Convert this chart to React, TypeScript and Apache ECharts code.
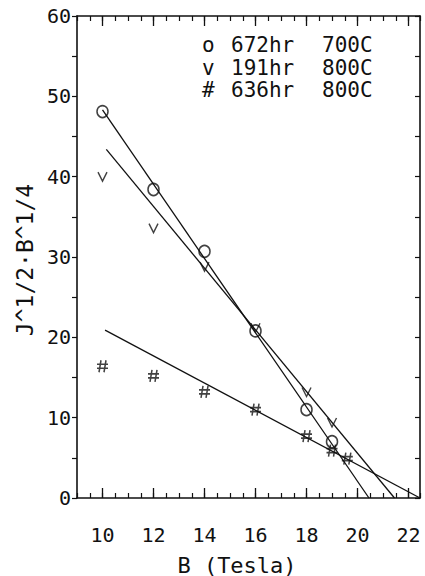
import React, { useEffect, useRef } from 'react';
import * as echarts from 'echarts';

const xLabels = [10, 12, 14, 16, 18, 20, 22];
const circlePts = [[10, 48.1], [12, 38.4], [14, 30.7], [16, 20.8], [18, 11.0], [19, 7.0]];
const vPts = [[10, 40.0], [12, 33.6], [14, 28.8], [16, 21.2], [18, 13.2], [19, 9.4]];
const hashPts = [[10, 16.4], [12, 15.2], [14, 13.2], [16, 11.0], [18, 7.7], [19, 5.9], [19.6, 4.9]];
const circleFit = [[10, 48.3], [20.45, 0]];
const vFit = [[10.15, 43.4], [21.45, 0]];
const hashFit = [[10.1, 20.9], [22.45, 0]];
const legendMarks = ['o', 'v', '#'];
const legendRuns = ['672hr', '191hr', '636hr'];
const legendTemps = ['700C', '800C', '800C'];
const yTitle = 'J^1/2·B^1/4';
const xTitle = 'B (Tesla)';

const FONT = 'DejaVu Sans Mono';
const INK = '#111';

export default function App() {
  const ref = useRef<HTMLDivElement>(null);
  useEffect(() => {
    if (!ref.current) return;
    const chart = echarts.init(ref.current, undefined, { renderer: 'svg' });
    const xMin = 9, xMax = 22.45;
    const baseX = { type: 'value', min: xMin, max: xMax, splitLine: { show: false } };
    const legendGraphics: any[] = [];
    legendMarks.forEach((m, i) => {
      const y = 45 + i * 22.5;
      const st = { fontFamily: FONT, fontSize: 21, lineHeight: 20, fill: INK, verticalAlign: 'middle' };
      legendGraphics.push({ type: 'text', x: 202, y, style: { ...st, text: m } });
      legendGraphics.push({ type: 'text', x: 231, y, style: { ...st, text: legendRuns[i] } });
      legendGraphics.push({ type: 'text', x: 322, y, style: { ...st, text: legendTemps[i] } });
    });
    const option: any = {
      animation: false,
      grid: { left: 77, right: 5, top: 16, bottom: 78, containLabel: false },
      xAxis: [
        {
          ...baseX, position: 'bottom', interval: 0.5,
          axisLine: { show: true, lineStyle: { color: INK, width: 1.6 } },
          axisTick: { show: true, inside: true, length: 5, lineStyle: { color: INK, width: 1.2 } },
          axisLabel: {
            customValues: xLabels, interval: 0, margin: 27, fontFamily: FONT, fontSize: 20, color: INK,
            formatter: (v: number) => (xLabels.includes(v) ? String(v) : ''),
          },
        },
        {
          ...baseX, position: 'bottom',
          axisLine: { show: false },
          axisTick: { show: true, inside: true, length: 10, customValues: xLabels, lineStyle: { color: INK, width: 1.3 } },
          axisLabel: { show: false },
        },
        {
          ...baseX, position: 'top', interval: 0.5,
          axisLine: { show: true, lineStyle: { color: INK, width: 1.6 } },
          axisTick: { show: true, inside: true, length: 5, lineStyle: { color: INK, width: 1.2 } },
          axisLabel: { show: false },
        },
        {
          ...baseX, position: 'top',
          axisLine: { show: false },
          axisTick: { show: true, inside: true, length: 10, customValues: xLabels, lineStyle: { color: INK, width: 1.3 } },
          axisLabel: { show: false },
        },
      ],
      yAxis: [
        {
          type: 'value', position: 'left', min: 0, max: 60, interval: 10,
          splitLine: { show: false },
          axisLine: { show: true, lineStyle: { color: INK, width: 1.6 } },
          axisTick: { show: true, inside: false, length: 5, lineStyle: { color: INK, width: 1.2 } },
          minorTick: { show: true, splitNumber: 2, length: 5, lineStyle: { color: INK, width: 1.2 } },
          axisLabel: { margin: 6, fontFamily: FONT, fontSize: 20, color: INK },
        },
        {
          type: 'value', position: 'right', min: 0, max: 60, interval: 10,
          splitLine: { show: false },
          axisLine: { show: true, lineStyle: { color: INK, width: 1.6 } },
          axisTick: { show: true, inside: true, length: 5, lineStyle: { color: INK, width: 1.2 } },
          minorTick: { show: true, splitNumber: 2, length: 5, lineStyle: { color: INK, width: 1.2 } },
          axisLabel: { show: false },
        },
      ],
      series: [
        { type: 'line', data: circleFit, showSymbol: false, symbol: 'none', lineStyle: { color: INK, width: 1.3 } },
        { type: 'line', data: vFit, showSymbol: false, symbol: 'none', lineStyle: { color: INK, width: 1.3 } },
        { type: 'line', data: hashFit, showSymbol: false, symbol: 'none', lineStyle: { color: INK, width: 1.3 } },
        {
          type: 'scatter', data: circlePts, symbol: 'circle', symbolSize: [11, 12],
          itemStyle: { color: 'rgba(0,0,0,0)', borderColor: INK, borderWidth: 1.6 },
        },
        {
          type: 'scatter', data: vPts, symbol: 'path://M0,0L5,10L10,0', symbolSize: [9, 9],
          itemStyle: { color: 'none', borderColor: INK, borderWidth: 1.4 },
        },
        {
          type: 'scatter', data: hashPts, symbol: 'path://M4,0L2,12M9,0L7,12M0,4L11,4M0,8L11,8', symbolSize: [11, 12],
          itemStyle: { color: 'none', borderColor: INK, borderWidth: 1.6 },
        },
      ],
      graphic: [
        ...legendGraphics,
        {
          type: 'text', x: 25, y: 260, rotation: Math.PI / 2,
          style: { text: yTitle, fontFamily: FONT, fontSize: 23, fill: INK, align: 'center', verticalAlign: 'middle' },
        },
        {
          type: 'text', x: 237, y: 565,
          style: { text: xTitle, fontFamily: FONT, fontSize: 22, fill: INK, align: 'center', verticalAlign: 'middle' },
        },
      ],
    };
    chart.setOption(option);
    return () => chart.dispose();
  }, []);
  return <div ref={ref} style={{ position: 'fixed', left: 0, top: 0, width: 425, height: 576, background: '#fff' }} />;
}
